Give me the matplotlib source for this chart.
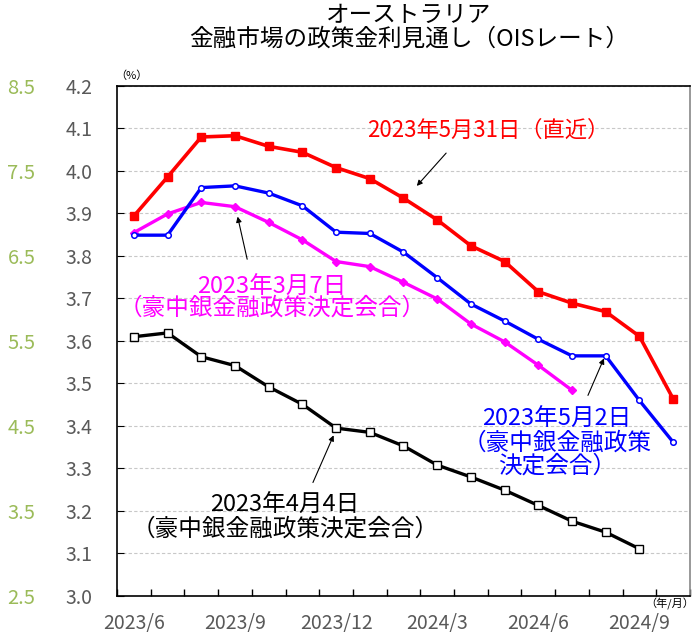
import numpy as np
import matplotlib
matplotlib.use("Agg")
import matplotlib.pyplot as plt

plt.rcParams['font.family'] = ['Noto Sans CJK JP', 'DejaVu Sans']

# 2023/6 .. 2024/10 の月次（17点）
months = ["2023/6", "2023/7", "2023/8", "2023/9", "2023/10", "2023/11", "2023/12",
          "2024/1", "2024/2", "2024/3", "2024/4", "2024/5", "2024/6", "2024/7",
          "2024/8", "2024/9", "2024/10"]
tick_labels = ["2023/6", "2023/9", "2023/12", "2024/3", "2024/6", "2024/9"]

ois_0531 = [3.894, 3.986, 4.080, 4.083, 4.058, 4.044, 4.008, 3.982, 3.936,
            3.885, 3.824, 3.787, 3.716, 3.689, 3.669, 3.611, 3.464]
ois_0502 = [3.849, 3.849, 3.961, 3.965, 3.948, 3.918, 3.856, 3.853, 3.809,
            3.749, 3.687, 3.647, 3.604, 3.565, 3.565, 3.460, 3.362]
ois_0307 = [3.855, 3.899, 3.926, 3.916, 3.879, 3.838, 3.787, 3.775, 3.738,
            3.699, 3.640, 3.598, 3.543, 3.484]
ois_0404 = [3.610, 3.619, 3.563, 3.542, 3.492, 3.451, 3.395, 3.385, 3.353,
            3.308, 3.280, 3.249, 3.213, 3.176, 3.150, 3.111]

# 左端の緑の目盛（第2軸）
left_labels = [2.5, 3.5, 4.5, 5.5, 6.5, 7.5, 8.5]

fig = plt.figure(figsize=(6.99, 6.37), dpi=100)
ax = fig.add_axes([0.1674, 0.0644, 0.8197, 0.8006])

x = np.arange(len(months))
ax.plot(x[:len(ois_0404)], ois_0404, color="black", lw=2.4, marker="s", ms=5.5,
        mfc="white", mec="black", mew=1.0, zorder=3)
ax.plot(x[:len(ois_0307)], ois_0307, color="#ff00ff", lw=2.4, marker="D", ms=4,
        mfc="#ff00ff", mec="#ff00ff", zorder=3)
ax.plot(x[:len(ois_0502)], ois_0502, color="#0000ff", lw=2.4, marker="o", ms=4,
        mfc="white", mec="#0000ff", mew=1.1, zorder=4)
ax.plot(x[:len(ois_0531)], ois_0531, color="#ff0000", lw=2.6, marker="s", ms=6,
        mfc="#ff0000", mec="#ff0000", zorder=5)

ax.set_xlim(-0.5, len(months) - 0.5)
ax.set_ylim(3.0, 4.2)
ax.set_yticks(np.arange(3.0, 4.21, 0.1))
ax.set_yticklabels([f"{v:.1f}" for v in np.arange(3.0, 4.21, 0.1)])
ax.yaxis.grid(True, color="#c8c8c8", linestyle=(0, (3, 2)), lw=0.8)
ax.set_axisbelow(True)

ax.set_xticks([months.index(m) for m in tick_labels])
ax.set_xticklabels(tick_labels)
ax.set_xticks(np.arange(-0.5, len(months), 1), minor=True)
ax.tick_params(axis="x", which="major", length=0, pad=12, labelsize=14, labelcolor="#595959")
ax.tick_params(axis="x", which="minor", direction="in", length=5, width=1)
ax.tick_params(axis="y", direction="in", length=5, pad=37, labelsize=14, labelcolor="#595959")
for lab in ax.get_yticklabels():
    lab.set_horizontalalignment("left")

for s in ["left", "bottom", "top"]:
    ax.spines[s].set_color("black")
    ax.spines[s].set_linewidth(1.2)
ax.spines["right"].set_color("#888888")
ax.spines["right"].set_linewidth(1.2)

sec = ax.secondary_yaxis(-0.135, functions=(lambda y: (y - 3.0) * 5 + 2.5,
                                             lambda v: (v - 2.5) / 5 + 3.0))
sec.set_yticks(left_labels)
sec.set_yticklabels([f"{v:.1f}" for v in left_labels])
sec.tick_params(length=0, pad=3, labelsize=14.5, labelcolor="#9bbb59")
sec.spines["left"].set_visible(False)

fig.text(0.585, 0.975, "オーストラリア", ha="center", va="center", fontsize=17)
fig.text(0.585, 0.938, "金融市場の政策金利見通し（OISレート）", ha="center", va="center", fontsize=17)
fig.text(0.188, 0.881, "（%）", ha="center", va="center", fontsize=8)
fig.text(0.958, 0.052, "（年/月）", ha="center", va="center", fontsize=8)

arrow = dict(arrowstyle="-|>", color="black", lw=0.8, mutation_scale=8)
ax.text(10.5, 4.096, "2023年5月31日（直近）", ha="center", va="center",
        fontsize=16, color="#ff0000")
ax.annotate("", xy=(8.34, 3.96), xytext=(9.32, 4.047), arrowprops=arrow)

ax.text(4.1, 3.702, "2023年3月7日\n（豪中銀金融政策決定会合）", ha="center", va="center",
        fontsize=17, color="#ff00ff", linespacing=0.88)
ax.annotate("", xy=(3.06, 3.899), xytext=(3.38, 3.786), arrowprops=arrow)

ax.text(12.55, 3.360, "2023年5月2日\n（豪中銀金融政策\n決定会合）", ha="center", va="center",
        fontsize=17, color="#0000ff", linespacing=1.02)
ax.annotate("", xy=(13.98, 3.565), xytext=(13.44, 3.466), arrowprops=arrow)

ax.text(4.48, 3.185, "2023年4月4日\n（豪中銀金融政策決定会合）", ha="center", va="center",
        fontsize=17, color="black", linespacing=1.04)
ax.annotate("", xy=(5.96, 3.384), xytext=(5.28, 3.261), arrowprops=arrow)

fig.savefig("out.png", dpi=100)
